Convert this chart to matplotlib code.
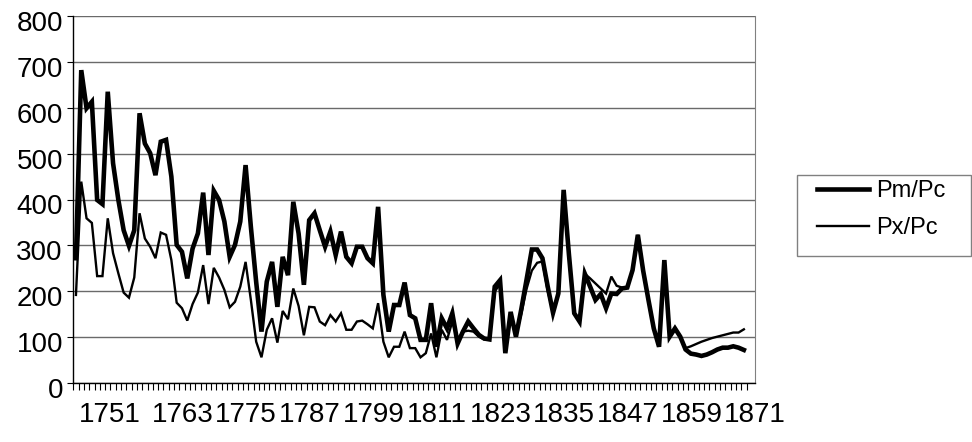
import matplotlib
matplotlib.use("Agg")
import matplotlib.pyplot as plt
import matplotlib.transforms as mtransforms
from matplotlib.patches import Rectangle
from matplotlib.ticker import FixedLocator

plt.rcParams['font.family'] = ['Liberation Sans', 'DejaVu Sans']

years = list(range(1745, 1872))

pm_pc = [272, 682, 599, 613, 399, 390, 635, 479, 399, 333,
         299, 333, 588, 522, 501, 453, 526, 530, 450, 301,
         286, 228, 293, 326, 415, 279, 419, 399, 352, 275,
         301, 352, 475, 340, 220, 112, 221, 264, 166, 275,
         235, 395, 326, 214, 355, 370, 333, 297, 330, 279,
         330, 275, 261, 297, 297, 272, 261, 384, 192, 112,
         170, 170, 219, 148, 141, 94, 94, 174, 79, 141,
         119, 152, 86, 112, 134, 119, 105, 97, 95, 210,
         224, 65, 155, 101, 160, 225, 291, 291, 272, 210,
         153, 195, 421, 280, 152, 134, 238, 210, 181, 194,
         163, 195, 194, 206, 208, 246, 323, 245, 181, 119,
         79, 268, 101, 119, 101, 73, 64, 62, 59, 62,
         67, 73, 77, 77, 80, 77, 72]

px_pc = [192, 439, 359, 349, 233, 233, 359, 283, 239, 197,
         186, 230, 370, 315, 297, 272, 328, 323, 268, 175,
         163, 136, 172, 197, 257, 172, 251, 230, 203, 165,
         177, 210, 264, 181, 90, 56, 116, 141, 88, 157,
         139, 206, 168, 104, 166, 165, 134, 126, 148, 134,
         152, 116, 116, 134, 136, 128, 119, 174, 90, 56,
         79, 79, 112, 76, 76, 56, 65, 108, 56, 116,
         94, 134, 94, 112, 114, 112, 101, 95, 95, 200,
         215, 70, 145, 105, 150, 205, 245, 262, 265, 200,
         155, 195, 415, 275, 150, 135, 238, 228, 217, 206,
         195, 232, 212, 208, 208, 246, 323, 243, 181, 119,
         79, 265, 101, 119, 101, 76, 80, 85, 90, 94,
         98, 101, 104, 107, 110, 110, 117]

label_years = [1751, 1763, 1775, 1787, 1799, 1811, 1823, 1835, 1847, 1859, 1871]

fig = plt.figure(figsize=(9.72, 4.42), dpi=100)
ax = fig.add_axes([73.3 / 972, 1 - 383 / 442, (755 - 73.3) / 972, (383 - 16) / 442])

ax.plot(years, pm_pc, color='black', lw=3.3, solid_joinstyle='miter', label='Pm/Pc', zorder=3)
ax.plot(years, px_pc, color='black', lw=1.7, solid_joinstyle='miter', label='Px/Pc', zorder=3)

ax.set_xlim(years[0] - 0.5, years[-1] + 0.5)
ax.set_ylim(0, 800)

# horizontal gridlines
ax.set_yticks(range(0, 900, 100))
ax.yaxis.grid(True, color='#6a6a6a', lw=1.0)
ax.set_axisbelow(True)

# category ticks between years, labels shifted as in the source
ax.xaxis.set_minor_locator(FixedLocator([y - 0.5 for y in years] + [years[-1] + 0.5]))
label_pos = [y + 2.1 for y in label_years]
label_pos[0] = label_years[0] + 0.3
ax.set_xticks(label_pos)
ax.set_xticklabels([str(y) for y in label_years])
ax.tick_params(axis='x', which='major', length=0, pad=14, labelsize=20)
ax.tick_params(axis='x', which='minor', direction='out', length=5, width=0.8, color='black')
ax.tick_params(axis='y', direction='out', length=4.5, width=0.8, pad=3, labelsize=20)

offset = mtransforms.ScaledTranslation(0, -5 / 100, fig.dpi_scale_trans)
for lab in ax.get_yticklabels():
    lab.set_transform(lab.get_transform() + offset)

ax.spines['top'].set_visible(False)
ax.spines['right'].set_color('#808080')
ax.spines['left'].set_linewidth(1.0)
ax.spines['bottom'].set_linewidth(1.0)

# legend
fig.patches.append(Rectangle((797 / 972, 1 - 256 / 442), 174 / 972, 81 / 442,
                             transform=fig.transFigure, fill=False,
                             edgecolor='#808080', lw=1.0))
handles, labels = ax.get_legend_handles_labels()
fig.legend(handles, labels, loc='upper left', bbox_to_anchor=(817 / 972, 1 - 180 / 442),
           frameon=False, fontsize=17, borderpad=0, borderaxespad=0,
           handlelength=2.2, handletextpad=0.3, labelspacing=0.64)

fig.savefig('out.png', dpi=100)
